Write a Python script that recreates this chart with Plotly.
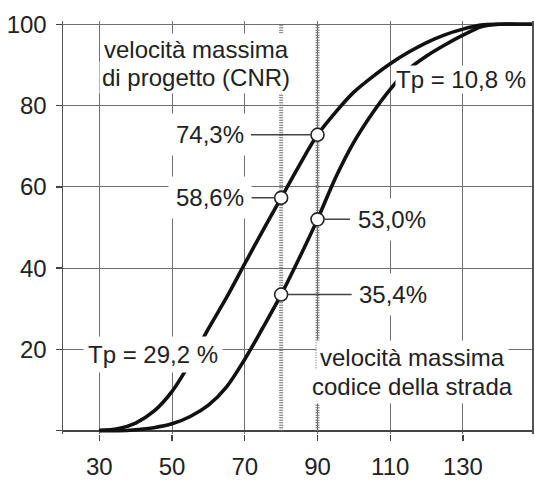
import plotly.graph_objects as go

# ---------------- data ----------------
speed = [30, 35, 40, 45, 50, 55, 60, 65, 70, 75, 80, 85, 90, 95, 100,
         105, 110, 115, 120, 125, 130, 135, 140, 145, 150]
cum_cnr = [0.1, 0.5, 1.9, 4.8, 9.7, 16.8, 25.1, 32.8, 41.1, 49.3, 57.3, 65.3, 72.8,
           78.4, 83.3, 87.0, 90.3, 93.1, 95.5, 97.4, 98.8, 99.8, 100, 100, 100]
cum_codice = [0, 0, 0.25, 0.75, 1.7, 3.5, 6.3, 10.8, 17.6, 25.4, 33.5, 42.5, 52.0,
              62.3, 71.0, 78.0, 84.0, 88.9, 92.2, 94.9, 97.3, 99.4, 100, 100, 100]

limit_speeds = [80, 90]
pt_x = [80, 90, 80, 90]
pt_y = [57.3, 72.8, 33.5, 52.0]
pt_labels = ["58,6%", "74,3%", "35,4%", "53,0%"]
pt_offsets = [-71, -108, 112, 74]

x_ticks = [30, 50, 70, 90, 110, 130, 150]
x_ticklabels = ["30", "50", "70", "90", "110", "130", ""]
y_ticks = [0, 20, 40, 60, 80, 100]
y_ticklabels = ["", "20", "40", "60", "80", "100"]

FONT = "Liberation Sans, Arial, sans-serif"
TXT = "#222222"
fs = 24

fig = go.Figure()
for yy in (cum_cnr, cum_codice):
    fig.add_trace(go.Scatter(
        x=speed, y=yy, mode="lines",
        line=dict(color="#111111", width=3.6, shape="spline", smoothing=0.9),
        hoverinfo="skip", showlegend=False))

fig.add_trace(go.Scatter(
    x=pt_x, y=pt_y, mode="markers",
    marker=dict(size=13, color="white", line=dict(color="#222222", width=1.6)),
    showlegend=False, hoverinfo="skip"))

for s in limit_speeds:
    fig.add_shape(type="line", x0=s, x1=s, y0=0, y1=100, xref="x", yref="y",
                  line=dict(color="#6e6e6e", width=4, dash="1px,1.5px"),
                  layer="between")

# labels at the points
for xv, yv, lab, off in zip(pt_x, pt_y, pt_labels, pt_offsets):
    fig.add_annotation(x=xv, y=yv, text=lab, showarrow=True, arrowhead=0,
                       arrowwidth=1.5, arrowcolor="#444444", ax=off, ay=0,
                       standoff=6.5, bgcolor="white", borderpad=7,
                       font=dict(family=FONT, size=fs, color=TXT))

def note(x, y, text, pad=2):
    fig.add_annotation(x=x, y=y, xref="x", yref="y", text=text, showarrow=False,
                       bgcolor="white", borderpad=pad,
                       font=dict(family=FONT, size=fs, color=TXT))

note(56.6, 93.7, "velocità massima")
note(56.6, 86.8, "di progetto (CNR)")
note(116.0, 18.0, "velocità massima", pad=3)
note(116.0, 10.8, "codice della strada", pad=3)
note(44.8, 18.7, "Tp = 29,2 %", pad=4)
note(129.6, 86.5, "Tp = 10,8 %", pad=0)

fig.update_layout(
    width=535, height=481,
    margin=dict(l=63, r=3, t=21, b=47),
    paper_bgcolor="white", plot_bgcolor="white",
    font=dict(family=FONT, size=fs, color=TXT),
    xaxis=dict(range=[20, 149], tickvals=x_ticks, ticktext=x_ticklabels,
               automargin=False,
               showgrid=True, gridcolor="#707070", gridwidth=1,
               zeroline=False, showline=False,
               ticks="outside", ticklen=6, tickcolor="#444444", tickwidth=1.3,
               ticklabelstandoff=5,
               tickfont=dict(family=FONT, size=fs, color=TXT)),
    yaxis=dict(range=[-0.8, 100.8], tickvals=y_ticks, ticktext=y_ticklabels,
               automargin=False,
               showgrid=True, gridcolor="#707070", gridwidth=1,
               zeroline=True, zerolinecolor="#444444", zerolinewidth=1.5,
               showline=True, linecolor="#555555", linewidth=1.5, mirror=True,
               ticks="outside", ticklen=6, tickcolor="#444444", tickwidth=1.3,
               ticklabelstandoff=4,
               tickfont=dict(family=FONT, size=fs, color=TXT)),
)

fig.write_html("out.html",
               config={"displayModeBar": False, "staticPlot": True},
               post_script="document.body.style.margin='0px';"
                           "document.body.style.overflow='hidden';")
